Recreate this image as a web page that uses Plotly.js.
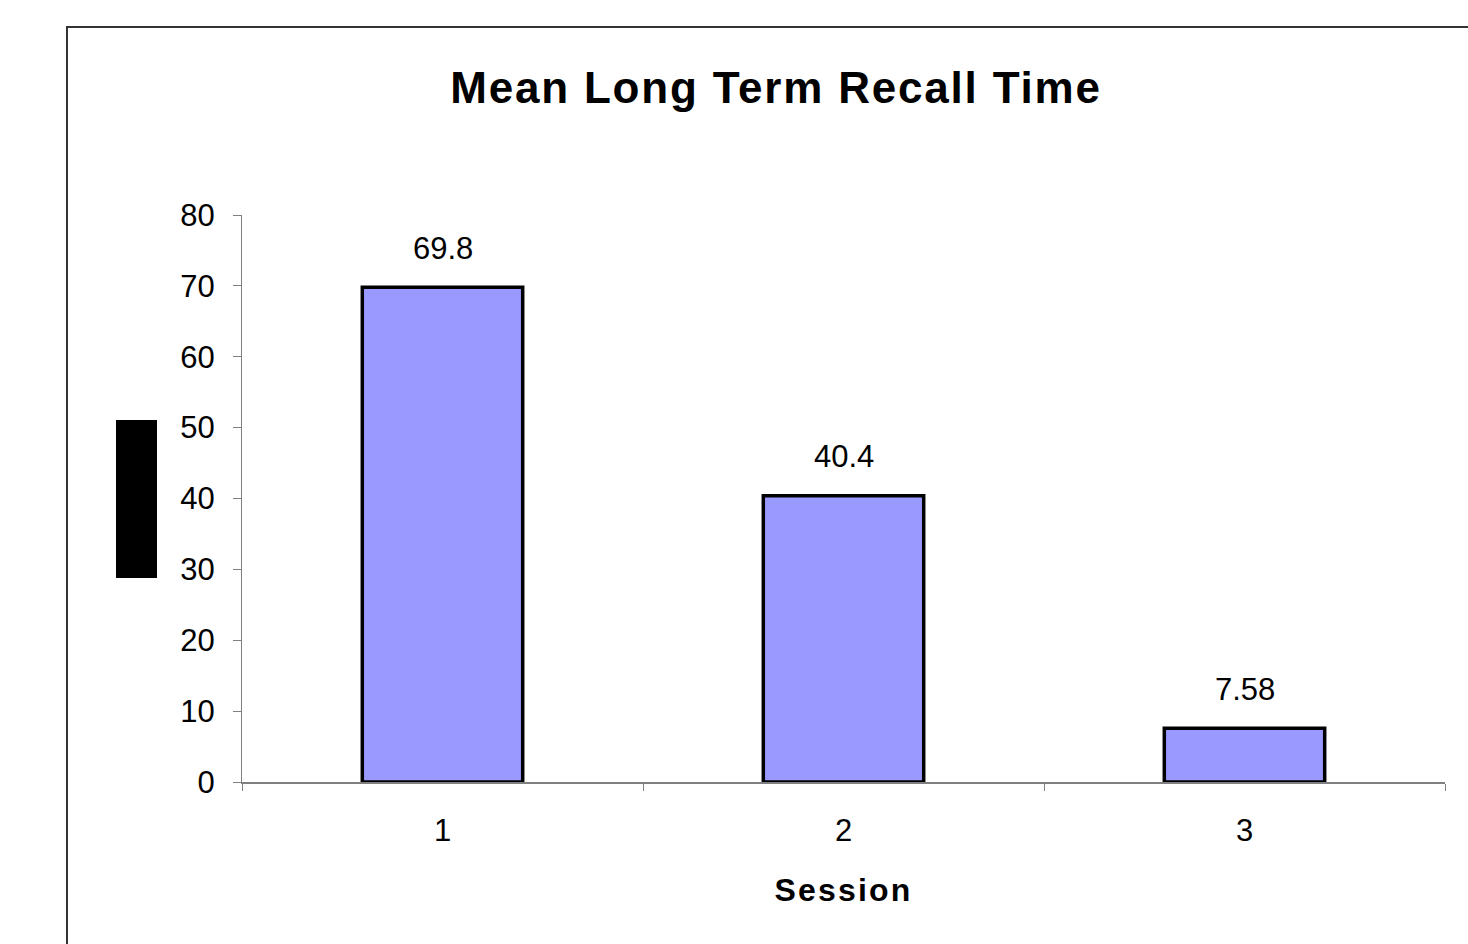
<!DOCTYPE html>
<html>
<head>
<meta charset="utf-8">
<script src="https://cdn.plot.ly/plotly-3.0.1.min.js"></script>
<style>
html,body{margin:0;padding:0;background:#fff;}
#chart{width:1468px;height:944px;}
#chart .gtitle{letter-spacing:1.8px;}
#chart .xtitle{letter-spacing:2.2px;}
</style>
</head>
<body>
<div id="chart"></div>
<script>
const sessions = ["1", "2", "3"];
const recallTimes = [69.8, 40.4, 7.58];
const valueLabels = ["69.8", "40.4", "7.58"];
const yTicks = [0, 10, 20, 30, 40, 50, 60, 70, 80];

const FONT = "Liberation Sans, Arial, sans-serif";

const trace = {
  type: "bar",
  x: sessions,
  y: recallTimes,
  marker: { color: "#9999FF", line: { color: "#000000", width: 3.5 } },
  hoverinfo: "x+y"
};

const annotations = sessions.map((s, i) => ({
  x: i, y: recallTimes[i], xref: "x", yref: "y",
  text: valueLabels[i], showarrow: false,
  yanchor: "middle", yshift: 39,
  font: { family: FONT, size: 31, color: "#000" }
}));

const layout = {
  width: 1468, height: 944,
  margin: { l: 242, r: 23, t: 215, b: 162 },
  paper_bgcolor: "#ffffff", plot_bgcolor: "#ffffff",
  showlegend: false,
  bargap: 0.6,
  title: {
    text: "<b>Mean Long Term Recall Time</b>",
    x: 776 / 1468, xref: "container", xanchor: "center",
    y: 1 - 88 / 944, yref: "container", yanchor: "middle",
    font: { family: FONT, size: 44, color: "#000" }
  },
  xaxis: {
    type: "category",
    range: [-0.5, 2.5],
    tickson: "boundaries",
    ticks: "outside", ticklen: 7, tickcolor: "#808080", tickwidth: 1,
    showline: true, linecolor: "#808080", linewidth: 2,
    showgrid: false, zeroline: false,
    tickfont: { family: FONT, size: 31, color: "#000" },
    ticklabelstandoff: 20,
    title: { text: "<b>Session</b>", font: { family: FONT, size: 32, color: "#000" }, standoff: 31 }
  },
  yaxis: {
    range: [0, 80],
    tickvals: yTicks, ticktext: yTicks.map(String),
    ticks: "outside", ticklen: 8, tickcolor: "#808080", tickwidth: 1,
    showline: true, linecolor: "#808080", linewidth: 1,
    showgrid: false, zeroline: false,
    tickfont: { family: FONT, size: 31, color: "#000" },
    ticklabelstandoff: 12
  },
  annotations: annotations,
  shapes: [
    { type: "rect", xref: "paper", yref: "paper",
      x0: (67 - 242) / 1203, x1: 1.2, y0: -0.6, y1: (782 - 27) / 567,
      line: { color: "#333333", width: 2 }, fillcolor: "rgba(0,0,0,0)", layer: "below" },
    { type: "rect", xref: "paper", yref: "paper",
      x0: (116 - 242) / 1203, x1: (157 - 242) / 1203,
      y0: (782 - 578) / 567, y1: (782 - 420) / 567,
      line: { width: 0 }, fillcolor: "#000000" }
  ]
};

Plotly.newPlot("chart", [trace], layout, { displayModeBar: false, staticPlot: true });
</script>
</body>
</html>
